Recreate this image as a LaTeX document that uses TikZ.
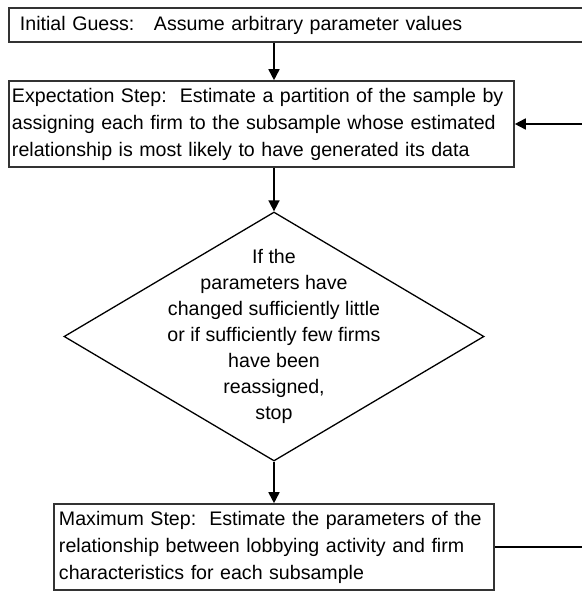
\documentclass[tikz,border=0pt]{standalone}
\usepackage{fontspec}
\setmainfont{Liberation Sans}
\usetikzlibrary{shapes.geometric,arrows.meta,calc}
\begin{document}
\begin{tikzpicture}[x=1bp,y=1bp,
  txt/.style={font=\fontsize{19.6bp}{27bp}\selectfont},
  box/.style={txt, draw=black!80, line width=1.6bp, rectangle, align=left, inner ysep=0bp},
  decision/.style={diamond, draw=black, line width=1.3bp, inner sep=0bp},
  arr/.style={draw=black, line width=1.7bp, -{Triangle[width=11bp,length=11bp]}},
 ]
\clip (0,0) rectangle (582,-591);
\node[box, minimum width=591bp, minimum height=34bp, text width=569bp, inner xsep=11bp] (init) at (304.5,-25)
  {Initial Guess:\ \ \ Assume arbitrary parameter values};
\node[box, minimum width=505bp, minimum height=86bp, text width=499bp, inner xsep=3bp] (exp) at (261.5,-124)
  {Expectation Step:\ \ Estimate a partition of the sample by\\
   assigning each firm to the subsample whose estimated\\
   relationship is most likely to have generated its data};
\node[decision, minimum width=420bp, minimum height=249bp] (dec) at (274,-336.5) {};
\node[txt, font=\fontsize{19.6bp}{26bp}\selectfont, align=center, inner sep=0bp] (dectext) at (dec.center)
  {If the\\parameters have\\changed sufficiently little\\or if sufficiently few firms\\have been\\reassigned,\\stop};
\node[box, minimum width=440bp, minimum height=86bp, text width=430bp, inner xsep=5bp] (max) at (274,-547)
  {Maximum Step:\ \ Estimate the parameters of the\\
   relationship between lobbying activity and firm\\
   characteristics for each subsample};
\coordinate (loop) at (600,0);
\draw[arr] (dec.north |- init.south) -- (dec.north |- exp.north);
\draw[arr] (dec.north |- exp.south) -- (dec.north);
\draw[arr] (dec.south) -- (max.north);
\draw[arr] (max.east) -- (max.east -| loop) |- (exp.east);
\end{tikzpicture}
\end{document}
